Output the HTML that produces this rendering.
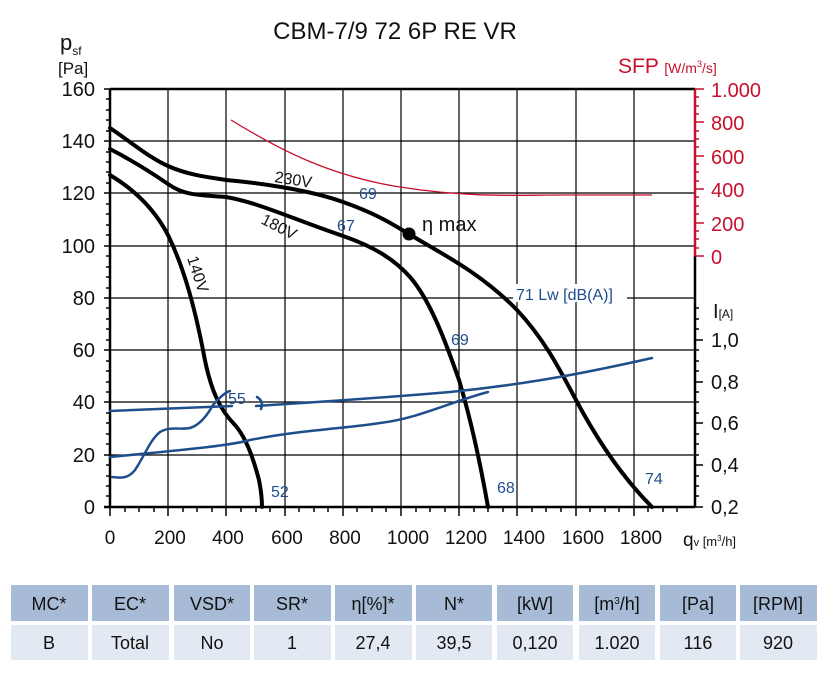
<!DOCTYPE html>
<html><head><meta charset="utf-8"><style>
body{margin:0;background:#fff;width:826px;height:668px;overflow:hidden;font-family:"Liberation Sans",sans-serif}
svg text{font-family:"Liberation Sans",sans-serif}
</style></head><body>
<svg width="826" height="668" viewBox="0 0 826 668" xmlns="http://www.w3.org/2000/svg">
<text x="395" y="39" font-size="24" text-anchor="middle" fill="#111">CBM-7/9 72 6P RE VR</text>
<text x="60" y="50" font-size="22" fill="#111">p<tspan font-size="12" dy="5">sf</tspan></text>
<text x="58" y="74" font-size="17" fill="#111">[Pa]</text>
<text x="618" y="73" font-size="21" fill="#c8102e">SFP <tspan font-size="14">[W/m</tspan><tspan font-size="9" dy="-6">3</tspan><tspan font-size="14" dy="6">/s]</tspan></text>
<g stroke="#000" stroke-width="1.2">
<line x1="168" y1="89" x2="168" y2="507"/><line x1="226" y1="89" x2="226" y2="507"/><line x1="285" y1="89" x2="285" y2="507"/><line x1="343" y1="89" x2="343" y2="507"/><line x1="401" y1="89" x2="401" y2="507"/><line x1="459" y1="89" x2="459" y2="507"/><line x1="517" y1="89" x2="517" y2="507"/><line x1="576" y1="89" x2="576" y2="507"/><line x1="634" y1="89" x2="634" y2="507"/>
<line x1="110" y1="141" x2="695" y2="141"/><line x1="110" y1="193" x2="695" y2="193"/><line x1="110" y1="246" x2="695" y2="246"/><line x1="110" y1="298" x2="695" y2="298"/><line x1="110" y1="350" x2="695" y2="350"/><line x1="110" y1="402" x2="695" y2="402"/><line x1="110" y1="455" x2="695" y2="455"/>
</g>
<line x1="110" y1="89" x2="695" y2="89" stroke="#000" stroke-width="2.5"/>
<line x1="110" y1="89" x2="110" y2="507" stroke="#000" stroke-width="2.5"/>
<line x1="104" y1="507" x2="695" y2="507" stroke="#000" stroke-width="2.5"/>
<line x1="695" y1="256" x2="695" y2="507" stroke="#000" stroke-width="2.5"/>
<line x1="695" y1="89" x2="695" y2="256" stroke="#c8102e" stroke-width="2.5"/>
<g stroke="#000" stroke-width="1.5">
<path d="M104 89H110M104 141H110M104 193H110M104 246H110M104 298H110M104 350H110M104 402H110M104 455H110M106 99H110M106 110H110M106 120H110M106 131H110M106 152H110M106 162H110M106 172H110M106 183H110M106 204H110M106 214H110M106 225H110M106 235H110M106 256H110M106 267H110M106 277H110M106 288H110M106 308H110M106 319H110M106 329H110M106 340H110M106 361H110M106 371H110M106 382H110M106 392H110M106 413H110M106 423H110M106 434H110M106 444H110M106 465H110M106 476H110M106 486H110M106 496H110"/>
<path d="M110 507V516M168 507V516M226 507V516M285 507V516M343 507V516M401 507V516M459 507V516M517 507V516M576 507V516M634 507V516M125 507V512M139 507V512M154 507V512M183 507V512M197 507V512M212 507V512M241 507V512M256 507V512M270 507V512M299 507V512M314 507V512M328 507V512M357 507V512M372 507V512M386 507V512M416 507V512M430 507V512M445 507V512M474 507V512M488 507V512M503 507V512M532 507V512M546 507V512M561 507V512M590 507V512M605 507V512M619 507V512M648 507V512M663 507V512M677 507V512"/>
<path d="M695 340H703M695 382H703M695 423H703M695 465H703M695 507H703M695 350H699M695 361H699M695 371H699M695 392H699M695 402H699M695 413H699M695 434H699M695 444H699M695 455H699M695 476H699M695 486H699M695 496H699M695 329H699M695 319H699M695 308H699"/>
</g>
<path d="M695 89H704M695 122H704M695 156H704M695 189H704M695 223H704M695 256H704M695 97H699M695 106H699M695 114H699M695 131H699M695 139H699M695 147H699M695 164H699M695 172H699M695 181H699M695 197H699M695 206H699M695 214H699M695 231H699M695 239H699M695 248H699" stroke="#c8102e" stroke-width="1.5"/>
<g font-size="20" fill="#111" text-anchor="end">
<text x="95" y="96">160</text><text x="95" y="148">140</text><text x="95" y="200">120</text><text x="95" y="253">100</text><text x="95" y="305">80</text><text x="95" y="357">60</text><text x="95" y="409">40</text><text x="95" y="462">20</text><text x="95" y="514">0</text>
</g>
<g font-size="19" fill="#111" text-anchor="middle">
<text x="110" y="544">0</text><text x="170" y="544">200</text><text x="228" y="544">400</text><text x="287" y="544">600</text><text x="345" y="544">800</text><text x="408" y="544">1000</text><text x="466" y="544">1200</text><text x="524" y="544">1400</text><text x="583" y="544">1600</text><text x="641" y="544">1800</text>
</g>
<text x="683" y="546" font-size="19" fill="#111">q<tspan font-size="11">v</tspan><tspan font-size="13"> [m</tspan><tspan font-size="8" dy="-5">3</tspan><tspan font-size="13" dy="5">/h]</tspan></text>
<g font-size="20" fill="#c8102e">
<text x="711" y="97">1.000</text><text x="711" y="130">800</text><text x="711" y="164">600</text><text x="711" y="197">400</text><text x="711" y="231">200</text><text x="711" y="264">0</text>
</g>
<text x="713" y="318" font-size="20" fill="#111">I<tspan font-size="12">[A]</tspan></text>
<g font-size="20" fill="#111">
<text x="711" y="347">1,0</text><text x="711" y="389">0,8</text><text x="711" y="430">0,6</text><text x="711" y="472">0,4</text><text x="711" y="514">0,2</text>
</g>
<path d="M231 120 C280 150 330 176 400 187 S520 195 560 195 L652 195" fill="none" stroke="#c8102e" stroke-width="1.3"/>
<g fill="none" stroke="#000" stroke-width="4" stroke-linecap="round">
<path d="M110 128 C135 145 150 158 168 166 C190 176 215 178 226 180 C260 183 310 190 343 202 C380 215 395 226 409 234 C440 253 480 272 517 310 C545 340 560 370 576 400 C600 445 625 480 652 507"/>
<path d="M110 149 C135 162 155 175 168 184 C185 196 200 195 226 197 C260 203 290 218 343 236 C375 247 395 260 410 277 C430 300 445 340 459 380 C468 410 478 450 488 507"/>
<path d="M110 175 C135 190 155 210 168 235 C185 270 195 310 203 350 C210 390 220 410 235 425 C248 440 255 465 259 480 C262 495 262 505 262 507"/>
</g>
<circle cx="409" cy="234" r="6.5" fill="#000"/>
<text x="422" y="231" font-size="20" fill="#111">η max</text>
<text x="274" y="182" font-size="16" fill="#111" transform="rotate(9 274 182)">230V</text>
<text x="260" y="223" font-size="16" fill="#111" transform="rotate(27 260 223)">180V</text>
<text x="187" y="258" font-size="16" fill="#111" transform="rotate(72 187 258)">140V</text>
<g fill="none" stroke="#1f4e8c" stroke-width="2.5" stroke-linecap="round">
<path d="M110 411 C150 409 190 408 232 406"/>
<path d="M256 406 C320 402 380 398 450 392 C530 384 590 372 652 358"/>
<path d="M257 397 C262 400 263 404 261 409"/>
<path d="M110 457 C170 451 230 446 250 440 C300 430 350 428 380 423 C420 418 450 402 488 392"/>
<path d="M112 477 C120 478 128 479 135 470 C145 455 150 440 160 432 C170 426 180 430 190 428 C200 425 208 414 213 405 C220 397 226 392 230 391"/>
</g>
<g font-size="16" fill="#1f4e8c">
<text x="359" y="199">69</text><text x="337" y="231">67</text><text x="451" y="345">69</text><text x="228" y="404">55</text><text x="271" y="497">52</text><text x="497" y="493">68</text><text x="645" y="484">74</text>
</g>
<rect x="513" y="284" width="114" height="18" fill="#fff"/>
<text x="516" y="300" font-size="16" fill="#1f4e8c">71 Lw [dB(A)]</text>
<g fill="#a7bbd6">
<rect x="11" y="585" width="77" height="36"/><rect x="92" y="585" width="77" height="36"/><rect x="174" y="585" width="76" height="36"/><rect x="254" y="585" width="77" height="36"/><rect x="335" y="585" width="77" height="36"/><rect x="416" y="585" width="76" height="36"/><rect x="497" y="585" width="76" height="36"/><rect x="579" y="585" width="76" height="36"/><rect x="660" y="585" width="76" height="36"/><rect x="740" y="585" width="77" height="36"/>
</g>
<g fill="#e3e9f2">
<rect x="11" y="625" width="77" height="35"/><rect x="92" y="625" width="77" height="35"/><rect x="174" y="625" width="76" height="35"/><rect x="254" y="625" width="77" height="35"/><rect x="335" y="625" width="77" height="35"/><rect x="416" y="625" width="76" height="35"/><rect x="497" y="625" width="76" height="35"/><rect x="579" y="625" width="76" height="35"/><rect x="660" y="625" width="76" height="35"/><rect x="740" y="625" width="77" height="35"/>
</g>
<g font-size="18" fill="#111" text-anchor="middle">
<text x="49" y="610">MC*</text><text x="130" y="610">EC*</text><text x="212" y="610">VSD*</text><text x="292" y="610">SR*</text><text x="373" y="610">η[%]*</text><text x="454" y="610">N*</text><text x="535" y="610">[kW]</text><text x="617" y="610">[m<tspan font-size="10" dy="-6">3</tspan><tspan dy="6">/h]</tspan></text><text x="698" y="610">[Pa]</text><text x="778" y="610">[RPM]</text>
<text x="49" y="649">B</text><text x="130" y="649">Total</text><text x="212" y="649">No</text><text x="292" y="649">1</text><text x="373" y="649">27,4</text><text x="454" y="649">39,5</text><text x="535" y="649">0,120</text><text x="617" y="649">1.020</text><text x="698" y="649">116</text><text x="778" y="649">920</text>
</g>
</svg>
</body></html>
